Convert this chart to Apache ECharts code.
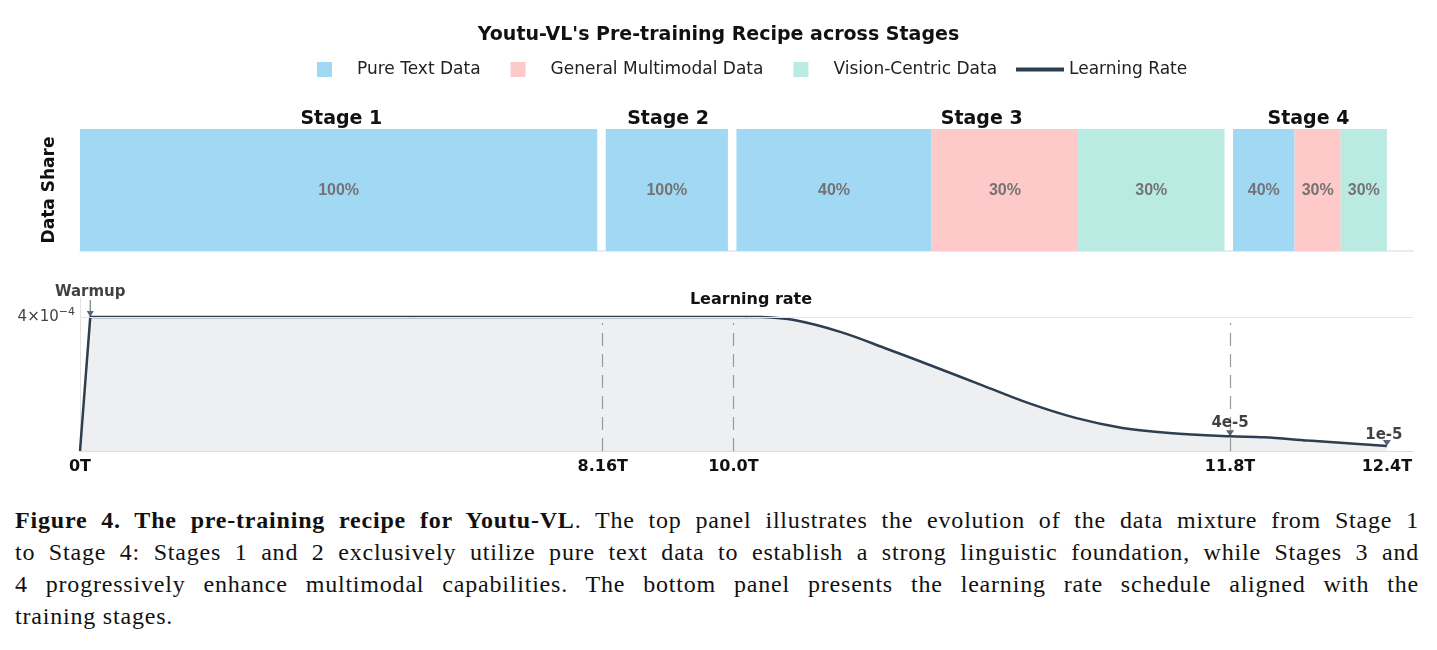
<!DOCTYPE html>
<html>
<head>
<meta charset="utf-8">
<script src="https://cdn.jsdelivr.net/npm/echarts@6/dist/echarts.min.js"></script>
<style>
  html, body { margin: 0; padding: 0; background: #fff; }
  #chart { position: absolute; left: 0; top: 0; width: 1437px; height: 500px; }
  #caption {
    position: absolute; left: 15px; top: 504px; width: 1404px;
    font-family: 'Liberation Serif', serif; font-size: 24px; line-height: 32px; color: #111;
    letter-spacing: 0.8px;
  }
  #caption div { white-space: nowrap; }
  #caption .j { text-align: justify; text-align-last: justify; }
</style>
</head>
<body>
<div id="chart"></div>
<div id="caption">
  <div class="j"><b>Figure 4. The pre-training recipe for Youtu-VL</b>. The top panel illustrates the evolution of the data mixture from Stage 1</div>
  <div class="j">to Stage 4: Stages 1 and 2 exclusively utilize pure text data to establish a strong linguistic foundation, while Stages 3 and</div>
  <div class="j">4 progressively enhance multimodal capabilities. The bottom panel presents the learning rate schedule aligned with the</div>
  <div>training stages.</div>
</div>
<script>
// stages and data mixture (percent of each stage)
const stageNames = ['Stage 1', 'Stage 2', 'Stage 3', 'Stage 4'];
const stageEndTokens = [8.16, 10.0, 11.8, 12.4];
const pureText = [100, 100, 40, 40];
const generalMultimodal = [0, 0, 30, 30];
const visionCentric = [0, 0, 30, 30];

// x ticks (trillions of tokens)
const tickTokens = [0, 8.16, 10.0, 11.8, 12.4];
const tickLabels = ['0T', '8.16T', '10.0T', '11.8T', '12.4T'];

// learning rate schedule
const warmupTokens = [0, 0.16, 10.10];
const warmupLR = [0, 4e-4, 4e-4];
const decayTokens = [10.10, 10.22, 10.39, 10.56, 10.73, 10.90, 11.07, 11.24, 11.41, 11.58, 11.80, 11.93, 12.10, 12.29, 12.40];
const decayLR = [4.0e-4, 3.91e-4, 3.55e-4, 3.04e-4, 2.51e-4, 1.97e-4, 1.43e-4, 0.99e-4, 0.69e-4, 0.54e-4, 0.44e-4, 0.41e-4, 0.31e-4, 0.21e-4, 0.15e-4];

// annotations
const noteTokens = [0.16, 11.8, 12.4];
const noteLR = [4e-4, 0.44e-4, 0.15e-4];
const noteLabels = ['Warmup', '4e-5', '1e-5'];

// layout: share of the x axis each stage takes (axis is not linear in tokens)
const stageSpan = [40, 10, 38, 12];
const AXIS_MAX = 102;

function toAxis(t) {
  let a0 = 0, t0 = 0;
  for (let i = 0; i < stageEndTokens.length; i++) {
    const t1 = stageEndTokens[i];
    if (t <= t1 + 1e-9) return a0 + (t - t0) / (t1 - t0) * stageSpan[i];
    a0 += stageSpan[i];
    t0 = t1;
  }
  return a0;
}

const tickPos = tickTokens.map(toAxis);
const stageCenters = stageEndTokens.map((t, i) => (toAxis(i ? stageEndTokens[i - 1] : 0) + toAxis(t)) / 2);
const findLabel = (v, pos, labels) => {
  const i = pos.findIndex(p => Math.abs(p - v) < 1e-6);
  return i < 0 ? '' : labels[i];
};

const FONT = 'DejaVu Sans';
const LINE = '#2c3e50';

function mixSeries(name, shares, starts, color) {
  return {
    type: 'custom',
    name,
    xAxisIndex: 0,
    yAxisIndex: 0,
    itemStyle: { color },
    data: shares.map((v, i) => [i, starts[i], v]).filter(d => d[2] > 0),
    renderItem(params, api) {
      const s = api.value(0), from = api.value(1), share = api.value(2);
      const last = stageEndTokens.length - 1;
      const p0 = api.coord([toAxis(s ? stageEndTokens[s - 1] : 0), 1]);
      const p1 = api.coord([toAxis(stageEndTokens[s]), 0]);
      const left = p0[0] + (s ? 3 : 0);
      const right = p1[0] - (s < last ? 5.5 : 0);
      const w = right - left;
      return {
        type: 'rect',
        shape: { x: left + w * from / 100, y: p0[1], width: w * share / 100, height: p1[1] - p0[1] },
        style: { fill: api.visual('color') },
        textContent: {
          style: {
            text: share + '%', fill: '#737373',
            fontFamily: 'Liberation Sans', fontSize: 16, fontWeight: 'bold'
          }
        },
        textConfig: { position: 'inside', offset: [0, 1] }
      };
    }
  };
}

const chart = echarts.init(document.getElementById('chart'));

const option = {
  animation: false,
  textStyle: { fontFamily: FONT },
  title: [
    {
      text: "Youtu-VL's Pre-training Recipe across Stages",
      left: 'center',
      top: 21,
      textStyle: { fontFamily: FONT, fontSize: 19, fontWeight: 'bold', color: '#111' }
    },
    {
      text: 'Learning rate',
      left: 746,
      top: 287,
      textAlign: 'center',
      textStyle: { fontFamily: FONT, fontSize: 16, fontWeight: 'bold', color: '#111' }
    }
  ],
  legend: [
    {
      left: 317,
      top: 61,
      padding: 0,
      itemWidth: 15,
      itemHeight: 15,
      itemGap: 30,
      data: [
        { name: 'Pure Text Data', icon: 'rect' },
        { name: 'General Multimodal Data', icon: 'rect' },
        { name: 'Vision-Centric Data', icon: 'rect' }
      ],
      textStyle: { fontFamily: FONT, fontSize: 17, color: '#222', padding: [0, 0, 0, 20] }
    },
    {
      left: 1016,
      top: 61,
      padding: 0,
      itemWidth: 48,
      itemHeight: 4,
      data: [{ name: 'Learning Rate', icon: 'rect' }],
      textStyle: { fontFamily: FONT, fontSize: 17, color: '#222' }
    }
  ],
  grid: [
    { left: 80, right: 24, top: 129, height: 122 },
    { left: 80, right: 24, top: 298, height: 153 }
  ],
  xAxis: [
    {
      gridIndex: 0, type: 'value', min: 0, max: AXIS_MAX, position: 'bottom',
      axisLine: { show: true, lineStyle: { color: '#e6ebf4', width: 2 } },
      axisTick: { show: false }, axisLabel: { show: false }, splitLine: { show: false }
    },
    {
      gridIndex: 0, type: 'value', min: 0, max: AXIS_MAX, position: 'top',
      axisLine: { show: false }, axisTick: { show: false }, splitLine: { show: false },
      axisLabel: {
        customValues: stageCenters,
        formatter: v => findLabel(v, stageCenters, stageNames),
        margin: 0,
        fontFamily: FONT, fontSize: 19, fontWeight: 'bold', color: '#111'
      }
    },
    {
      gridIndex: 1, type: 'value', min: 0, max: AXIS_MAX,
      axisLine: { show: true, lineStyle: { color: '#dcdcdc', width: 1 } },
      axisTick: { show: false }, splitLine: { show: false },
      axisLabel: {
        customValues: tickPos,
        formatter: v => findLabel(v, tickPos, tickLabels),
        margin: 8,
        fontFamily: FONT, fontSize: 16, fontWeight: 'bold', color: '#111'
      }
    }
  ],
  yAxis: [
    {
      gridIndex: 0, type: 'value', min: 0, max: 1,
      name: 'Data Share', nameLocation: 'middle', nameRotate: 90, nameGap: 22,
      nameTextStyle: { fontFamily: FONT, fontSize: 17, fontWeight: 'bold', color: '#111' },
      axisLine: { show: false }, axisTick: { show: false }, axisLabel: { show: false }, splitLine: { show: false }
    },
    {
      gridIndex: 1, type: 'value', min: 0, max: 4.57e-4,
      axisLine: { show: true, lineStyle: { color: '#e3e3e3' } },
      axisTick: { show: false }, splitLine: { show: false },
      axisLabel: {
        customValues: [4e-4],
        margin: 5,
        formatter: v => {
          const e = Math.floor(Math.log10(v));
          const m = Math.round(v / Math.pow(10, e));
          return '{b|' + m + '×10}{s|−' + Math.abs(e) + '}';
        },
        rich: {
          b: { fontFamily: FONT, fontSize: 15, color: '#444' },
          s: { fontFamily: FONT, fontSize: 11, color: '#444', padding: [0, 0, 10, 0] }
        }
      }
    }
  ],
  series: [
    mixSeries('Pure Text Data', pureText, pureText.map(() => 0), '#a1d9f4'),
    mixSeries('General Multimodal Data', generalMultimodal, pureText, '#fdc9c9'),
    mixSeries('Vision-Centric Data', visionCentric, pureText.map((v, i) => v + generalMultimodal[i]), '#b9ebe3'),
    {
      name: 'Learning Rate',
      type: 'line',
      xAxisIndex: 2, yAxisIndex: 1,
      data: warmupTokens.map((t, i) => [toAxis(t), warmupLR[i]]),
      showSymbol: false,
      lineStyle: { color: LINE, width: 2.5 },
      itemStyle: { color: LINE },
      areaStyle: { color: 'rgba(40,52,66,0.11)' },
      z: 3,
      markLine: {
        silent: true,
        symbol: 'none',
        label: { show: false },
        data: [
          [{ coord: [0, 4e-4], lineStyle: { color: '#e6e6e6', width: 1, type: 'solid' } }, { coord: [AXIS_MAX, 4e-4] }]
        ].concat(tickTokens.slice(1, 4).map(t => [
          { coord: [toAxis(t), 0], lineStyle: { color: '#9a9a9a', width: 1.2, type: [13, 8] } },
          { coord: [toAxis(t), 3.82e-4] }
        ]))
      }
    },
    {
      name: 'Learning Rate',
      type: 'line',
      xAxisIndex: 2, yAxisIndex: 1,
      data: decayTokens.map((t, i) => [toAxis(t), decayLR[i]]),
      smooth: 0.35,
      showSymbol: false,
      lineStyle: { color: LINE, width: 2.5 },
      itemStyle: { color: LINE },
      areaStyle: { color: 'rgba(40,52,66,0.11)' },
      z: 3
    },
    {
      type: 'scatter',
      xAxisIndex: 2, yAxisIndex: 1,
      z: 5,
      itemStyle: { color: LINE },
      label: {
        show: true, position: 'top', distance: 0,
        fontFamily: FONT, fontSize: 15, fontWeight: 'bold', color: '#111'
      },
      data: noteTokens.map((t, i) => {
        const item = {
          value: [toAxis(t), noteLR[i]],
          symbol: 'triangle', symbolRotate: 180, symbolSize: [8, 6], symbolOffset: [0, -3],
          label: { formatter: noteLabels[i] }
        };
        if (i === 0) {
          item.symbol = 'path://M3,0h1v11h-1zM0,11h7l-3.5,6z';
          item.symbolRotate = 0;
          item.symbolSize = [7, 17];
          item.symbolOffset = [0, -8.5];
        }
        if (i === noteTokens.length - 1) {
          item.label.offset = [-3, 0];
          item.label.distance = -3;
        }
        return item;
      })
    }
  ]
};

chart.setOption(option);
</script>
</body>
</html>
